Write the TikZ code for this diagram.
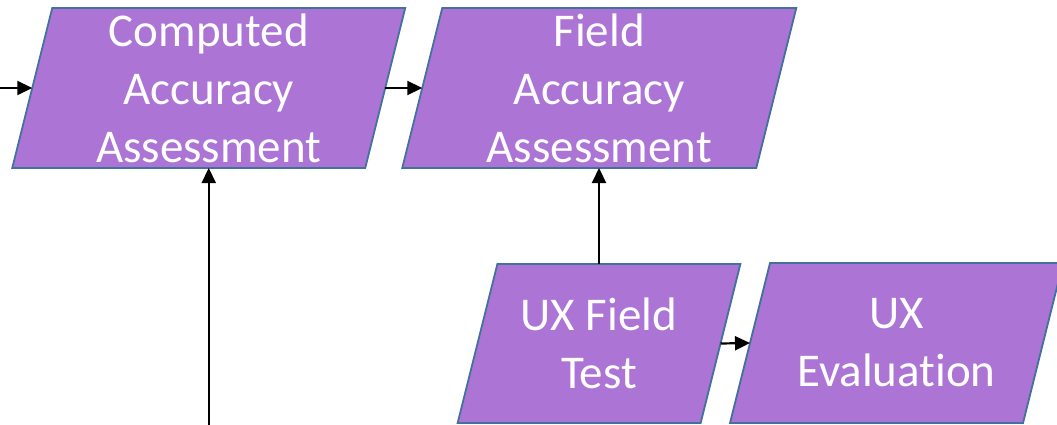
\documentclass[tikz,border=0pt]{standalone}
\usepackage{fontspec}
\setmainfont{Carlito}[Ligatures=NoCommon]
\usetikzlibrary{arrows.meta}

\definecolor{blockpurple}{RGB}{171,116,213}
\definecolor{blockedge}{RGB}{65,113,156}

% slanted process block: name, centre x, centre y, top-edge length, height, text
\newcommand\slantblock[6]{%
  \pgfmathsetmacro\sbW{#4/2}%
  \pgfmathsetmacro\sbH{#5/2}%
  \pgfmathsetmacro\sbS{#5/8}%
  \draw[blockshape] (#2-\sbW+\sbS,#3-\sbH) -- (#2+\sbW+\sbS,#3-\sbH)
    -- (#2+\sbW-\sbS,#3+\sbH) -- (#2-\sbW-\sbS,#3+\sbH) -- cycle;
  \node[blocktext] (#1) at (#2,#3) {#6};
  \coordinate (#1-w) at (#2-\sbW,#3);
  \coordinate (#1-e) at (#2+\sbW,#3);
  \coordinate (#1-n) at (#2,#3-\sbH);
  \coordinate (#1-s) at (#2,#3+\sbH);
}

\tikzset{
  blockshape/.style={fill=blockpurple, draw=blockedge, line width=1.8pt, line join=miter},
  blocktext/.style={text=white, align=center, inner sep=0pt,
    font=\fontsize{47}{58}\selectfont},
  flow/.style={draw=black, line width=2.2pt, -{Triangle[length=15pt,width=14pt]}},
}

\begin{document}
\begin{tikzpicture}[x=1pt, y=-1pt]
\clip (0,0) rectangle (1057,425);

\slantblock{comp}{208.75}{88}{353}{160}{Computed\\Accuracy\\Assessment}
\slantblock{field}{599.25}{88}{354}{160}{Field\\Accuracy\\Assessment}
\slantblock{uxtest}{599}{343.5}{243}{159}{UX Field\\Test}
\slantblock{uxeval}{896.5}{343}{293}{160}{UX\\Evaluation}

\coordinate (inleft) at (0,88);
\coordinate (inbelow) at (208.75,425);

\draw[flow] (inleft) -- (comp-w);
\draw[flow] (inbelow) -- (comp-s);
\draw[flow] (comp-e) -- (field-w);
\draw[flow] (uxtest-n) -- (uxtest-n |- field-s);
\draw[flow] (uxtest-e) -- (uxeval-w);
\end{tikzpicture}
\end{document}
